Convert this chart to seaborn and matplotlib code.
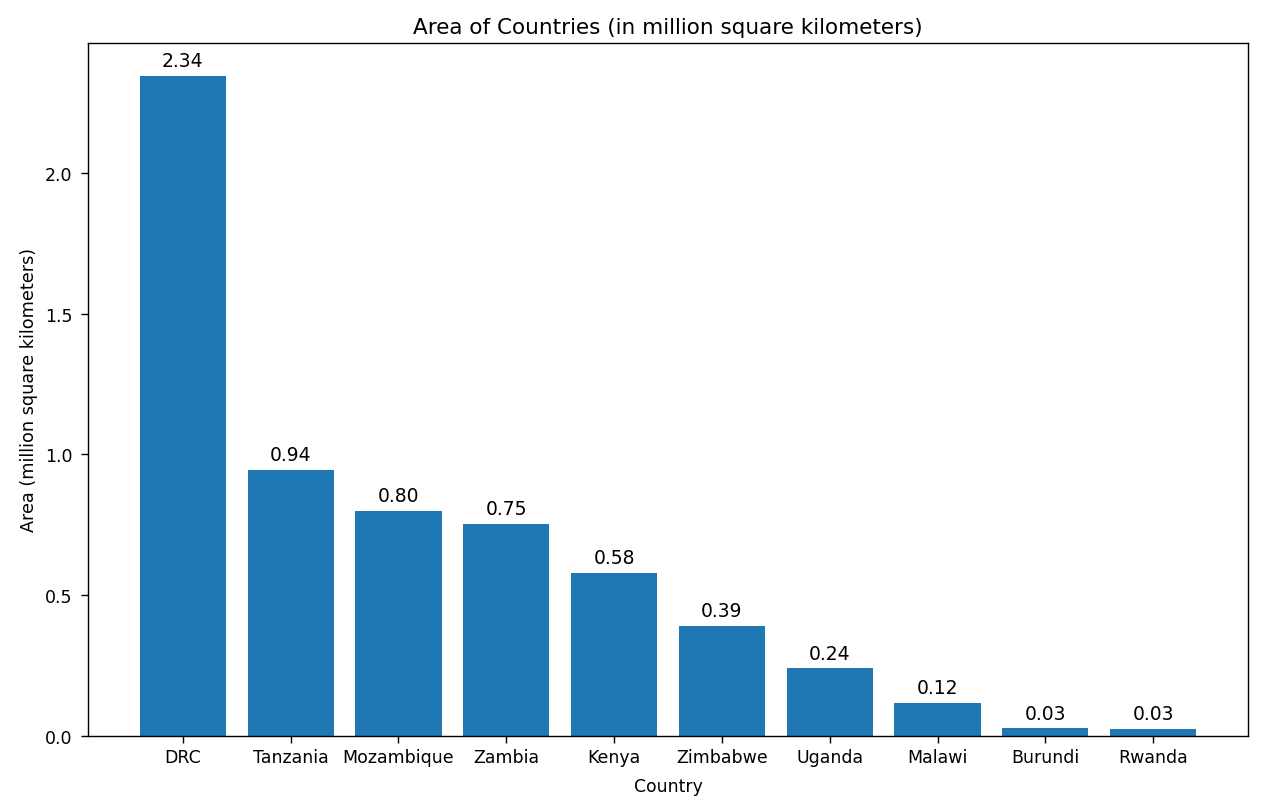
import matplotlib
matplotlib.use("Agg")
import matplotlib.pyplot as plt
import seaborn as sns
import pandas as pd

countries = ["DRC", "Tanzania", "Mozambique", "Zambia", "Kenya", "Zimbabwe",
             "Uganda", "Malawi", "Burundi", "Rwanda"]
areas = [2.344, 0.945, 0.799, 0.753, 0.580, 0.391, 0.241, 0.118, 0.028, 0.026]

df = pd.DataFrame({"Country": countries, "Area": areas})

sns.set_style("ticks")
plt.rcParams["font.family"] = ["DejaVu Sans"]
plt.rcParams["axes.linewidth"] = 1.0
plt.rcParams["text.color"] = "black"
plt.rcParams["axes.labelcolor"] = "black"
plt.rcParams["xtick.color"] = "black"
plt.rcParams["ytick.color"] = "black"

fig = plt.figure(figsize=(12.63, 8.12), dpi=100)
ax = fig.add_axes([88 / 1263, 1 - 737 / 812, (1248 - 88) / 1263, (737 - 44) / 812])

sns.barplot(data=df, x="Country", y="Area", color="#1f77b4", saturation=1,
            width=0.8, ax=ax, edgecolor="none")

for i, v in enumerate(areas):
    ax.annotate(f"{v:.2f}", (i, v), xytext=(0, 4), textcoords="offset points",
                ha="center", va="bottom", fontsize=13.5)

n = len(countries)
ax.set_xlim(-0.4 - 0.049 * (n - 0.2), n - 0.6 + 0.049 * (n - 0.2))
ax.set_ylim(0, max(areas) * 1.05)
ax.set_yticks([0, 0.5, 1.0, 1.5, 2.0])
ax.tick_params(labelsize=12.5, length=5, width=1)
ax.tick_params(axis="y", pad=6)
ax.set_title("Area of Countries (in million square kilometers)", fontsize=15.5, pad=7)
ax.set_xlabel("Country", fontsize=12.4, labelpad=8)
ax.set_ylabel("Area (million square kilometers)", fontsize=12.7, labelpad=5)
for s in ax.spines.values():
    s.set_visible(True)
    s.set_color("black")

fig.savefig("out.png", dpi=100)
